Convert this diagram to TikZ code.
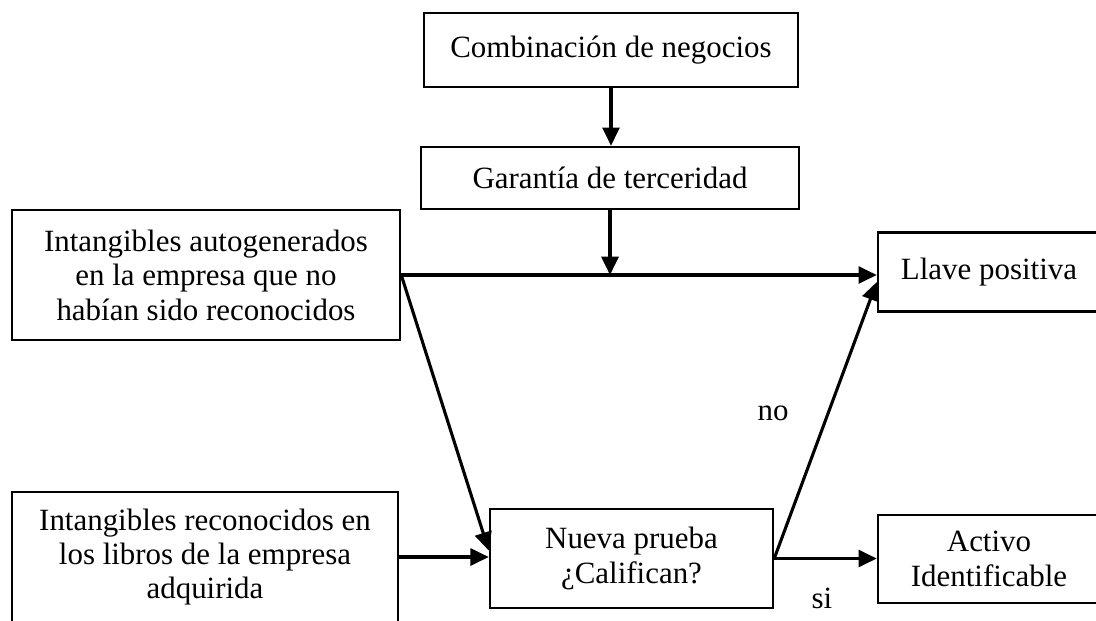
\documentclass[tikz,border=0pt]{standalone}
\usepackage{fontspec}
\setmainfont{Liberation Serif}
\usepackage{tikz}
\usetikzlibrary{positioning, arrows.meta}
\tikzstyle{box} = [rectangle, draw=black, line width=1.7pt, align=center, inner sep=0pt,
                    font=\fontsize{22}{24.5}\selectfont]
\tikzstyle{arrow} = [line width=2.2pt, -{Triangle[length=13pt,width=12pt]}]
\tikzstyle{tag} = [font=\fontsize{22}{24.5}\selectfont, inner sep=0pt]

\begin{document}
\begin{tikzpicture}[x=0.025cm, y=-0.025cm]

    \useasboundingbox (0,0) rectangle (1096,620);

    \node[box, minimum width=9.35cm, minimum height=1.85cm] (comb) at (611,50) {Combinación de negocios};
    \node[box, minimum width=9.45cm, minimum height=1.55cm] (gar) at (610,178) {Garantía de terceridad};
    \node[box, minimum width=9.7cm, minimum height=3.25cm] (intang) at (206,275) {Intangibles autogenerados\\en la empresa que no\\habían sido reconocidos};
    \node[box, minimum width=9.65cm, minimum height=3.25cm] (libros) at (205,557) {Intangibles reconocidos en\\los libros de la empresa\\adquirida};
    \node[box, minimum width=7.075cm, minimum height=2.475cm] (nueva) at (631.5,558.5) {Nueva prueba\\¿Califican?};
    \node[box, minimum width=5.55cm, minimum height=1.975cm] (llave) at (989,272) {Llave positiva};
    \node[box, minimum width=5.55cm, minimum height=2.2cm] (activo) at (989,559) {Activo\\Identificable};

    \coordinate (join) at (gar.south |- intang.east);

    \draw[arrow] (comb.south) to (comb.south |- gar.north);
    \draw[arrow] (gar.south) to (join);
    \draw[arrow] (intang.east) to (intang.east -| llave.west);
    \draw[arrow] (intang.east) to ([yshift=0.2cm]nueva.west);
    \draw[arrow] (libros.east) to (libros.east -| nueva.west);
    \draw[arrow] (nueva.east) to (nueva.east -| activo.west);
    \draw[arrow] (nueva.east) to ([yshift=-0.25cm]llave.west);

    \node[tag] (no) at (773,413) {no};
    \node[tag] (si) at (822,598) {si};

\end{tikzpicture}
\end{document}
